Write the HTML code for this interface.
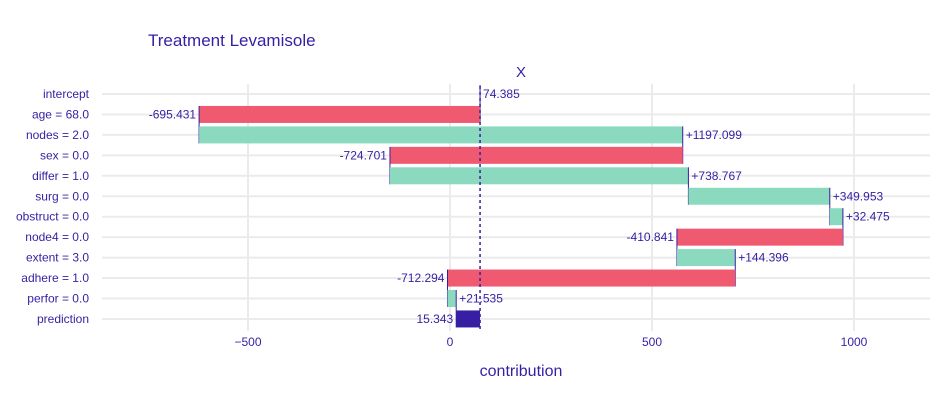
<!DOCTYPE html>
<html><head><meta charset="utf-8"><style>
body{margin:0;background:#fff;font-family:"Liberation Sans",Arial,sans-serif}
svg text{font-family:"Liberation Sans",Arial,sans-serif;fill:#371ea3}
</style></head><body>
<svg id="chart" width="930" height="410" viewBox="0 0 930 410" xmlns="http://www.w3.org/2000/svg">
<text x="148" y="46" font-size="17">Treatment Levamisole</text>
<text x="521" y="77" font-size="15" text-anchor="middle">X</text>
<text x="521" y="376" font-size="16" text-anchor="middle">contribution</text>
<g id="grid"></g><g id="bars"></g><g id="labels"></g>
</svg>
<script>
const categories=["intercept","age = 68.0","nodes = 2.0","sex = 0.0","differ = 1.0","surg = 0.0","obstruct = 0.0","node4 = 0.0","extent = 3.0","adhere = 1.0","perfor = 0.0","prediction"];
const contributions=[74.385,-695.431,1197.099,-724.701,738.767,349.953,32.475,-410.841,144.396,-712.294,21.535,15.343];
const labelsText=["74.385","-695.431","+1197.099","-724.701","+738.767","+349.953","+32.475","-410.841","+144.396","-712.294","+21.535","15.343"];
const xTicks=[-500,0,500,1000];
const tickLabels=["−500","0","500","1000"];
const NS="http://www.w3.org/2000/svg";
const x=v=>450+v*0.404;
const y=i=>94+i*20.45;
function el(t,a,p){const e=document.createElementNS(NS,t);for(const k in a)e.setAttribute(k,a[k]);p.appendChild(e);return e;}
const grid=document.getElementById('grid'),bars=document.getElementById('bars'),labs=document.getElementById('labels');
xTicks.forEach((t,i)=>{
 const l=el('line',{x1:x(t),x2:x(t),y1:84,y2:331,stroke:'#ebebeb','stroke-width':2},grid);
 
 
 const tx=el('text',{x:x(t),y:346,'font-size':12,'text-anchor':'middle'},labs);
 tx.textContent=tickLabels[i];
 
 
});
categories.forEach((c,i)=>{
 const g=el('line',{x1:102,x2:930,y1:y(i),y2:y(i),stroke:'#ebebeb','stroke-width':2},grid);
 
 
 const t=el('text',{x:89,y:y(i)+4,'font-size':12,'text-anchor':'end'},labs);
 t.textContent=c;
 
 
});
const intercept=contributions[0];
let cum=intercept;
const n=categories.length;
for(let i=0;i<n;i++){
 let a,b,col,lab,side;
 if(i===0){a=b=intercept;lab=labelsText[i];side=1;
  const c0=el('line',{x1:x(intercept),x2:x(intercept),y1:y(0)-9,y2:y(1)+9,stroke:'#371ea3','stroke-width':1},bars);
  
  
 } else if(i===n-1){a=cum;b=intercept;col='#371ea3';lab=labelsText[i];side=-1;}
 else {a=cum;b=cum+contributions[i];cum=b;col=contributions[i]<0?'#f05a71':'#8bdabf';lab=labelsText[i];side=contributions[i]<0?-1:1;}
 if(i>0){
  const r=el('rect',{x:Math.min(x(a),x(b)),y:y(i)-8.5,width:Math.abs(x(b)-x(a)),height:17,fill:col},bars);
  
  
  if(i<n-1){
   const cn=el('line',{x1:x(b),x2:x(b),y1:y(i)-8.5,y2:y(i+1)+8.5,stroke:'#371ea3','stroke-width':1},bars);
   
   
  }
 }
 const lx=side>0?Math.max(x(a),x(b))+3:Math.min(x(a),x(b))-3;
 const t=el('text',{x:lx,y:y(i)+4,'font-size':12,'text-anchor':side>0?'start':'end'},labs);
 t.textContent=lab;
 
 
}
const d=el('line',{x1:x(intercept),x2:x(intercept),y1:86,y2:329,stroke:'#371ea3','stroke-width':1.5,'stroke-dasharray':'3,3'},bars);


</script>
</body></html>
